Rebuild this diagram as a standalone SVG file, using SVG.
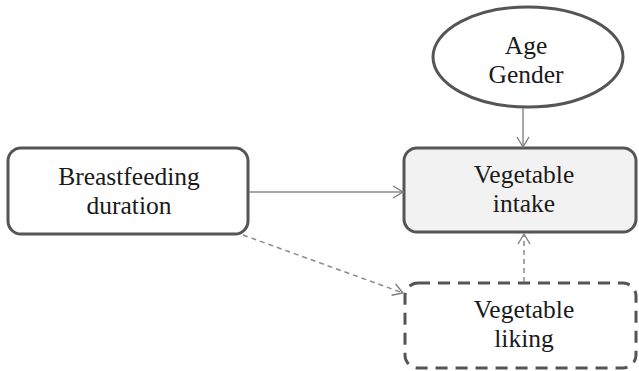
<svg xmlns="http://www.w3.org/2000/svg" width="639" height="371" viewBox="0 0 639 371">
<defs>
<marker id="ah" markerWidth="14" markerHeight="14" refX="12" refY="7" orient="auto" markerUnits="userSpaceOnUse">
<path d="M2,1 L12,7 L2,13" fill="none" stroke="#7f7f7f" stroke-width="1.4"/>
</marker>
</defs>
<style>
.node{fill:#ffffff;stroke:#555555;stroke-width:3}
.fill{fill:#f2f2f2}
.dash{stroke-dasharray:12 8}
.t{font-family:"Liberation Serif","Times New Roman",serif;font-size:25.5px;fill:#1a1a1a;text-anchor:middle}
.c{fill:none;stroke:#8a8a8a;stroke-width:1.5}
.cd{stroke-dasharray:5 4}
</style>
<rect width="639" height="371" fill="#ffffff"/>
<g id="age-gender">
<ellipse class="node" cx="528" cy="57" rx="95" ry="50"/>
<text class="t" x="526" y="54">Age</text>
<text class="t" x="526" y="83">Gender</text>
</g>
<g id="breastfeeding">
<rect class="node" x="8" y="148" width="240" height="86" rx="13"/>
<text class="t" x="129" y="185">Breastfeeding</text>
<text class="t" x="129" y="214">duration</text>
</g>
<g id="intake">
<rect class="node fill" x="404" y="148" width="232" height="84" rx="13"/>
<text class="t" x="524" y="183">Vegetable</text>
<text class="t" x="524" y="212">intake</text>
</g>
<g id="liking">
<rect class="node dash" x="405" y="283" width="231" height="85" rx="13"/>
<text class="t" x="524" y="318">Vegetable</text>
<text class="t" x="524" y="347">liking</text>
</g>
<g id="connectors">
<line class="c" x1="523" y1="108" x2="523" y2="147" marker-end="url(#ah)"/>
<line class="c" x1="249" y1="192" x2="403" y2="192" marker-end="url(#ah)"/>
<line class="c cd" x1="524" y1="282" x2="524" y2="234" marker-end="url(#ah)"/>
<line class="c cd" x1="243" y1="235" x2="403" y2="293" marker-end="url(#ah)"/>
</g>
</svg>
